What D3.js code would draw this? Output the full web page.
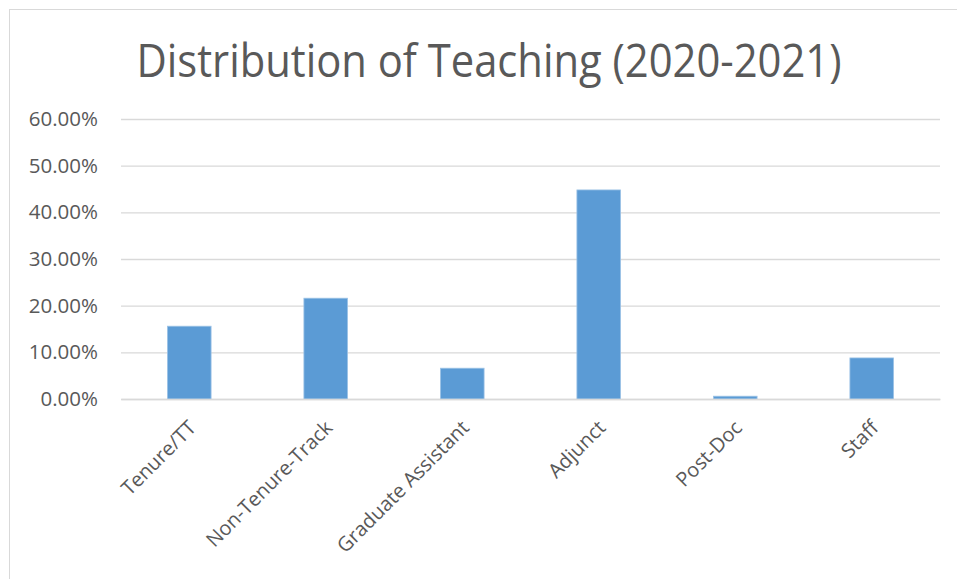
<!DOCTYPE html>
<html>
<head>
	<title>Distribution of Teaching</title>
	<script src="https://cdnjs.cloudflare.com/ajax/libs/d3/7.8.5/d3.min.js"></script>
	<style>
		body { margin: 0; background: #fff; }
		text { font-family: "Open Sans", sans-serif; fill: #595959; }
	</style>
</head>
<body>
	<div id="chart"></div>

	<script type="text/javascript">
		// data
		let categories = ["Tenure/TT", "Non-Tenure-Track", "Graduate Assistant", "Adjunct", "Post-Doc", "Staff"];
		let values = [0.156, 0.216, 0.066, 0.448, 0.006, 0.088];
		let yTicks = [0, 0.1, 0.2, 0.3, 0.4, 0.5, 0.6];
		let title = "Distribution of Teaching (2020-2021)";

		let width = 957, height = 579;
		let plotLeft = 121, plotRight = 940, plotTop = 119, plotBottom = 399;

		let svg = d3.select("#chart").append("svg")
			.attr("width", width)
			.attr("height", height);

		// chart area border
		svg.append("rect")
			.attr("x", 9.5)
			.attr("y", 9.5)
			.attr("width", width + 20)
			.attr("height", height + 20)
			.attr("fill", "#fff")
			.attr("stroke", "#D9D9D9")
			.attr("stroke-width", 1);

		let x = d3.scaleBand()
			.domain(categories)
			.range([plotLeft, plotRight])
			.paddingInner(0.68)
			.paddingOuter(0.34);

		let y = d3.scaleLinear()
			.domain([0, 0.6])
			.range([plotBottom, plotTop]);

		// gridlines + y labels
		let yAxis = d3.axisLeft(y)
			.tickValues(yTicks)
			.tickFormat(d3.format(".2%"))
			.tickSize(-(plotRight - plotLeft))
			.tickPadding(23);
		let gy = svg.append("g")
			.attr("transform", "translate(" + plotLeft + ",0)")
			.call(yAxis);
		gy.select(".domain").remove();
		gy.selectAll(".tick line").attr("stroke", "#D9D9D9").attr("stroke-width", 1.3);
		gy.selectAll(".tick text")
			.style("font-size", "20.5px")
			.attr("fill", "#595959");

		// bars
		svg.selectAll(".bar")
			.data(values)
			.enter().append("rect")
			.attr("class", "bar")
			.attr("x", (d, i) => x(categories[i]))
			.attr("y", d => y(d))
			.attr("width", x.bandwidth())
			.attr("height", d => y(0) - y(d))
			.attr("fill", "#5B9BD5")
			.attr("stroke", "#9DC3E6")
			.attr("stroke-width", 0.8);

		// x axis
		let xAxis = d3.axisBottom(x).tickSize(0).tickPadding(0);
		let gx = svg.append("g")
			.attr("transform", "translate(0," + plotBottom + ")")
			.call(xAxis);
		gx.select(".domain").attr("stroke", "#D9D9D9").attr("stroke-width", 1.3);
		gx.selectAll(".tick text")
			.style("font-size", "20px")
			.attr("fill", "#595959")
			.attr("text-anchor", "end")
			.attr("dy", 0)
			.attr("transform", "translate(8,30) rotate(-45)");

		// title
		svg.append("text")
			.attr("x", 489)
			.attr("y", 77)
			.attr("text-anchor", "middle")
			.attr("textLength", 705)
			.attr("lengthAdjust", "spacingAndGlyphs")
			.style("font-size", "45px")
			.text(title);
	</script>
</body>
</html>
